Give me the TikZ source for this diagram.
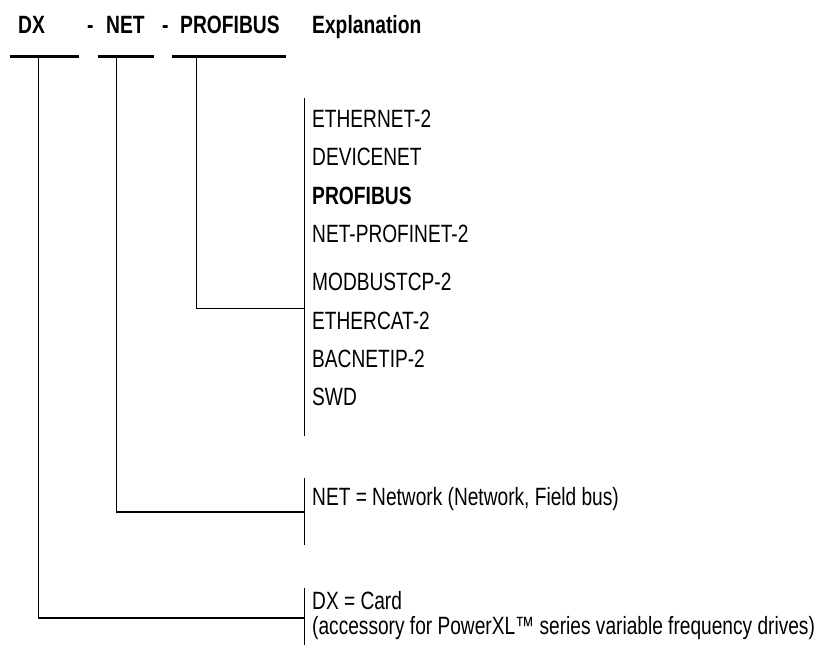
\documentclass[tikz,border=0pt]{standalone}
\usepackage{fontspec}
\setmainfont{Liberation Sans}[FakeStretch=0.765, BoldFeatures={FakeStretch=0.77}]
\begin{document}
\begin{tikzpicture}[x=1pt,y=-1pt,
  txt/.style={anchor=base west, inner sep=0pt, font=\fontsize{25}{30}\selectfont},
  hdr/.style={anchor=base west, inner sep=0pt, font=\fontsize{25}{30}\selectfont\bfseries},
  bar/.style={line width=3pt},
  conn/.style={line width=1.3pt}]
\useasboundingbox (0,0) rectangle (818,650);
% header
\node[hdr] (hDX) at (18,33.5) {DX};
\node[hdr] (hd1) at (87,33.5) {-};
\node[hdr] (hNET) at (106,33.5) {NET};
\node[hdr] (hd2) at (162,33.5) {-};
\node[hdr] (hPB) at (180,33.5) {PROFIBUS};
\node[hdr] (hEx) at (312,33.5) {Explanation};
% bars
\coordinate (b1l) at (10,56.5); \coordinate (b1r) at (79,56.5);
\coordinate (b2l) at (98,56.5); \coordinate (b2r) at (154,56.5);
\coordinate (b3l) at (172,56.5); \coordinate (b3r) at (286,56.5);
\draw[bar] (b1l) -- (b1r);
\draw[bar] (b2l) -- (b2r);
\draw[bar] (b3l) -- (b3r);
\coordinate (v1) at (38.7,56.5);
\coordinate (v2) at (116.3,56.5);
\coordinate (v3) at (196.3,56.5);
% brackets
\coordinate (k3t) at (304.5,98); \coordinate (k3b) at (304.5,436);
\coordinate (k2t) at (304.5,478); \coordinate (k2b) at (304.5,545);
\coordinate (k1t) at (304.5,588); \coordinate (k1b) at (304.5,645);
\coordinate (k3m) at (304.5,308.5);
\coordinate (k2m) at (304.5,512);
\coordinate (k1m) at (304.5,618);
\draw[conn] (k3t) -- (k3b);
\draw[conn] (k2t) -- (k2b);
\draw[conn] (k1t) -- (k1b);
\draw[conn] (v3) |- (k3m);
\draw[conn] (v2) |- (k2m);
\draw[conn] (v1) |- (k1m);
% items
\node[txt] (i1) at (312,127) {ETHERNET-2};
\node[txt] (i2) at (312,165.5) {DEVICENET};
\node[hdr] (i3) at (312,204) {PROFIBUS};
\node[txt] (i4) at (312,242.5) {NET-PROFINET-2};
\node[txt] (i5) at (312,290) {MODBUSTCP-2};
\node[txt] (i6) at (312,329) {ETHERCAT-2};
\node[txt] (i7) at (312,367) {BACNETIP-2};
\node[txt] (i8) at (312,405) {SWD};
\node[txt] (net) at (312,505.5) {NET = Network (Network, Field bus)};
\node[txt] (dx1) at (312,609.5) {DX = Card};
\node[txt] (dx2) at (312,634.5) {(accessory for PowerXL™ series variable frequency drives)};
\end{tikzpicture}
\end{document}
